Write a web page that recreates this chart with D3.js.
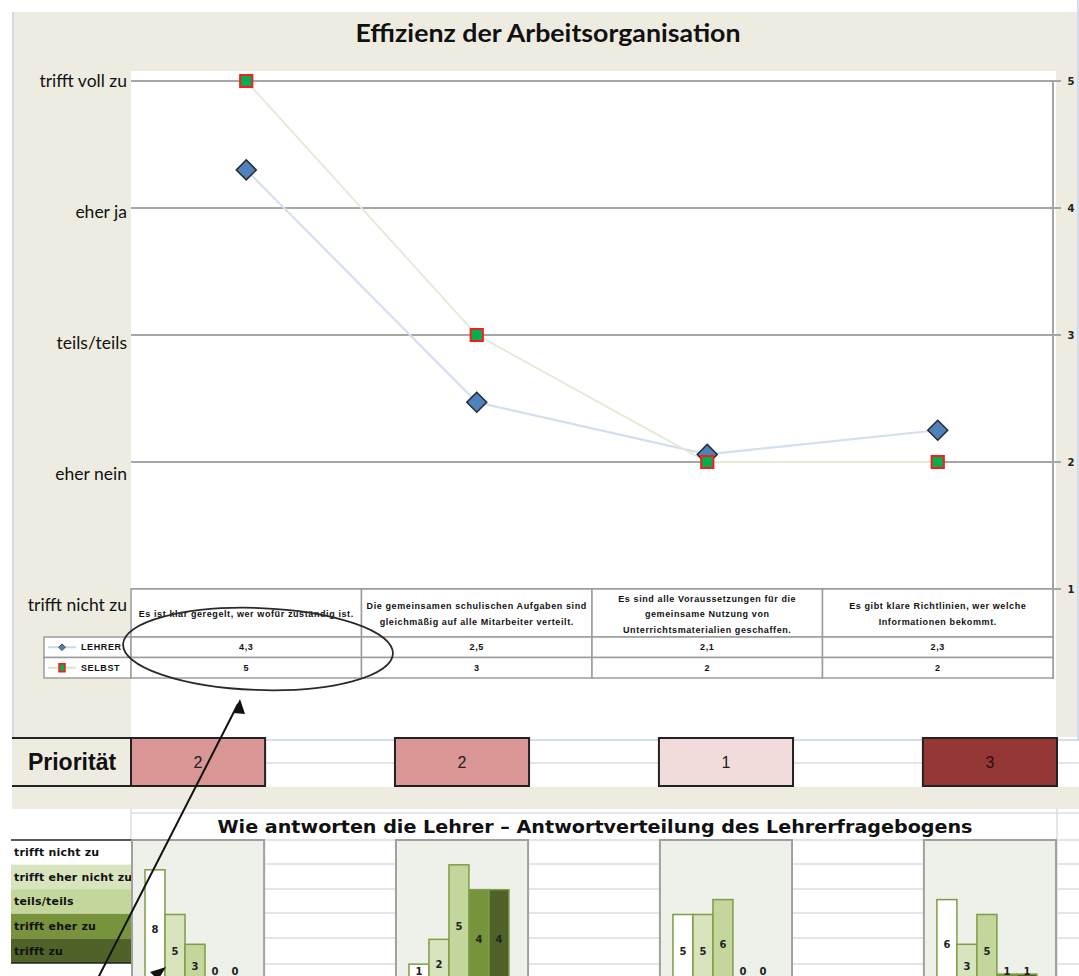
<!DOCTYPE html>
<html lang="de">
<head>
    <meta charset="UTF-8">
    <title>Effizienz der Arbeitsorganisation</title>
    <script src="https://cdn.jsdelivr.net/npm/d3@7"></script>
    <style>
        body {
            margin: 0;
            background: #fff;
        }

        svg {
            display: block;
        }

        .grid {
            stroke: #a6a6a6;
            stroke-width: 2px;
        }

        .cell {
            fill: #fff;
            stroke: #9c9c9c;
            stroke-width: 1.5px;
        }

        .xlgrid {
            stroke: #dcdddf;
            stroke-width: 1.5px;
        }

        .tiny {
            font-family: "Liberation Sans", Arial, sans-serif;
            font-weight: bold;
            font-size: 9px;
            letter-spacing: 0.6px;
            fill: #111;
        }
    </style>
</head>
<body>
<svg width="1079" height="976"></svg>

<script>

    // ---- data ----
    var categories = [
        "Es ist klar geregelt, wer wofür zuständig ist.",
        "Die gemeinsamen schulischen Aufgaben sind\ngleichmäßig auf alle Mitarbeiter verteilt.",
        "Es sind alle Voraussetzungen für die\ngemeinsame Nutzung von\nUnterrichtsmaterialien geschaffen.",
        "Es gibt klare Richtlinien, wer welche\nInformationen bekommt."
    ];
    var lehrer = [4.3, 2.47, 2.06, 2.25];
    var selbst = [5, 3, 2, 2];
    var scaleTicks = [1, 2, 3, 4, 5];
    var scaleLabels = ["trifft nicht zu", "eher nein", "teils/teils", "eher ja", "trifft voll zu"];
    var prioritaet = [2, 2, 1, 3];
    var levels = ["trifft nicht zu", "trifft eher nicht zu", "teils/teils", "trifft eher zu", "trifft zu"];
    var verteilung = [
        [8, 5, 3, 0, 0],
        [1, 2, 5, 4, 4],
        [5, 5, 6, 0, 0],
        [6, 3, 5, 1, 1]
    ];
    var verteilungMax = [10, 6, 10, 10];

    var levelColors = ["#ffffff", "#d7e4bd", "#c3d69b", "#77933c", "#4f6228"];
    var prioColors = {1: "#f2dcdb", 2: "#d99694", 3: "#953735"};

    var de = d3.formatLocale({decimal: ",", thousands: ".", grouping: [3], currency: ["", " €"]});
    var fmt = de.format(".1~f");

    var svg = d3.select('svg');

    // ---- chart area ----
    svg.append('rect')
        .attr('x', 12).attr('y', 12).attr('width', 1066).attr('height', 725)
        .attr('fill', '#eeece1');
    svg.append('rect')
        .attr('x', 131).attr('y', 71).attr('width', 925).attr('height', 666)
        .attr('fill', '#fff');

    var y = d3.scaleLinear().domain([1, 5]).range([589, 81]);
    var yLabel = d3.scaleLinear().domain([1, 5]).range([605, 81]);
    var x = d3.scaleBand().domain(d3.range(categories.length)).range([131, 1053]);
    var cx = function (i) {
        return x(i) + x.bandwidth() / 2;
    };

    svg.append('text')
        .attr('x', 548).attr('y', 42)
        .attr('text-anchor', 'middle')
        .attr('textLength', 385)
        .attr('lengthAdjust', 'spacingAndGlyphs')
        .style('font-family', 'Lato, sans-serif')
        .style('font-weight', 'bold')
        .style('font-size', '25px')
        .style('fill', '#111')
        .text('Effizienz der Arbeitsorganisation');

    svg.selectAll('.grid')
        .data(scaleTicks)
        .enter()
        .append('line')
        .attr('class', 'grid')
        .attr('x1', 131).attr('x2', 1061)
        .attr('y1', function (d) { return y(d); })
        .attr('y2', function (d) { return y(d); });

    svg.append('line')
        .attr('class', 'grid')
        .attr('x1', 1053).attr('x2', 1053)
        .attr('y1', y(5)).attr('y2', 679);

    svg.selectAll('.rtick')
        .data(scaleTicks)
        .enter()
        .append('text')
        .attr('x', 1071)
        .attr('y', function (d) { return y(d); })
        .attr('dy', '0.35em')
        .attr('text-anchor', 'middle')
        .style('font-family', '"DejaVu Sans", sans-serif')
        .style('font-weight', 'bold')
        .style('font-size', '10px')
        .style('fill', '#222')
        .text(function (d) { return d; });

    svg.selectAll('.ylab')
        .data(scaleTicks)
        .enter()
        .append('text')
        .attr('x', 127)
        .attr('y', function (d) { return yLabel(d); })
        .attr('dy', '0.35em')
        .attr('text-anchor', 'end')
        .style('font-family', 'Lato, sans-serif')
        .style('font-size', '17.5px')
        .style('fill', '#111')
        .text(function (d, i) { return scaleLabels[i]; });

    // ---- series ----
    var line = d3.line()
        .x(function (d, i) { return cx(i); })
        .y(function (d) { return y(d); });

    svg.append('path').datum(lehrer)
        .attr('d', line)
        .attr('fill', 'none')
        .attr('stroke', '#d3dff0')
        .attr('stroke-width', 2.2);
    svg.append('path').datum(selbst)
        .attr('d', line)
        .attr('fill', 'none')
        .attr('stroke', '#e6e8d3')
        .attr('stroke-width', 1.8);

    var diamond = d3.symbol().type(d3.symbolSquare).size(200);
    var square = d3.symbol().type(d3.symbolSquare).size(150);

    svg.selectAll('.lehrer')
        .data(lehrer)
        .enter()
        .append('path')
        .attr('d', diamond)
        .attr('transform', function (d, i) {
            return 'translate(' + cx(i) + ',' + y(d) + ') rotate(45)';
        })
        .attr('fill', '#4f81bd')
        .attr('stroke', '#2b2b2b')
        .attr('stroke-width', 1.5);

    svg.selectAll('.selbst')
        .data(selbst)
        .enter()
        .append('path')
        .attr('d', square)
        .attr('transform', function (d, i) {
            return 'translate(' + cx(i) + ',' + y(d) + ')';
        })
        .attr('fill', '#00b050')
        .attr('stroke', '#ff1a1a')
        .attr('stroke-width', 2);

    // ---- data table ----
    var headTop = 589, headBottom = 637, rowH = 20.5;

    svg.selectAll('.head')
        .data(categories)
        .enter()
        .append('rect')
        .attr('class', 'cell')
        .attr('x', function (d, i) { return x(i); })
        .attr('y', headTop)
        .attr('width', x.bandwidth())
        .attr('height', headBottom - headTop);

    svg.selectAll('.headText')
        .data(categories)
        .enter()
        .append('text')
        .attr('class', 'tiny')
        .attr('text-anchor', 'middle')
        .each(function (d, i) {
            var lines = d.split('\n');
            var t = d3.select(this);
            var mid = (headTop + headBottom) / 2 + 1;
            lines.forEach(function (l, k) {
                t.append('tspan')
                    .attr('x', cx(i))
                    .attr('y', mid + (k - (lines.length - 1) / 2) * 15.5)
                    .attr('dy', '0.35em')
                    .text(l);
            });
        });

    var series = [
        {name: 'LEHRER', values: lehrer},
        {name: 'SELBST', values: selbst}
    ];

    series.forEach(function (s, r) {
        var top = headBottom + r * rowH;
        svg.append('rect')
            .attr('class', 'cell')
            .attr('x', 44).attr('y', top)
            .attr('width', 131 - 44).attr('height', rowH);
        s.values.forEach(function (v, i) {
            svg.append('rect')
                .attr('class', 'cell')
                .attr('x', x(i)).attr('y', top)
                .attr('width', x.bandwidth()).attr('height', rowH);
            svg.append('text')
                .attr('class', 'tiny')
                .attr('x', cx(i)).attr('y', top + rowH / 2)
                .attr('dy', '0.35em')
                .attr('text-anchor', 'middle')
                .text(fmt(v));
        });
        svg.append('line')
            .attr('x1', 48).attr('x2', 76)
            .attr('y1', top + rowH / 2).attr('y2', top + rowH / 2)
            .attr('stroke', r === 0 ? '#cad8ec' : '#dfe3c8')
            .attr('stroke-width', 2);
        if (r === 0) {
            svg.append('path')
                .attr('d', d3.symbol().type(d3.symbolSquare).size(22))
                .attr('transform', 'translate(62,' + (top + rowH / 2) + ') rotate(45)')
                .attr('fill', '#4f81bd').attr('stroke', '#333').attr('stroke-width', 0.8);
        } else {
            svg.append('rect')
                .attr('x', 59).attr('y', top + rowH / 2 - 4)
                .attr('width', 6).attr('height', 8)
                .attr('fill', '#00b050').attr('stroke', '#ff1a1a').attr('stroke-width', 1.5);
        }
        svg.append('text')
            .attr('class', 'tiny')
            .attr('x', 81).attr('y', top + rowH / 2)
            .attr('dy', '0.35em')
            .text(s.name);
    });

    // light blue frame lines
    svg.append('path')
        .attr('d', 'M13,12V740H1079M1078,0V740')
        .attr('fill', 'none')
        .attr('stroke', '#c5d5ec')
        .attr('stroke-width', 1.5);

    // ---- lower section (Excel cells) ----
    var xb = d3.scaleBand().domain(d3.range(categories.length)).range([131, 1057]).paddingInner(0.492);

    [763, 813, 840, 864, 889, 913, 938, 964].forEach(function (gy) {
        svg.append('line').attr('class', 'xlgrid')
            .attr('x1', 131).attr('x2', 1079).attr('y1', gy).attr('y2', gy);
    });
    svg.append('line').attr('class', 'xlgrid')
        .attr('x1', 131).attr('x2', 131).attr('y1', 808).attr('y2', 840);
    svg.append('line').attr('class', 'xlgrid')
        .attr('x1', 1057).attr('x2', 1057).attr('y1', 808).attr('y2', 976);

    svg.append('rect')
        .attr('x', 12).attr('y', 738).attr('width', 119).attr('height', 48)
        .attr('fill', '#eeece1');
    svg.append('rect')
        .attr('x', 12).attr('y', 787).attr('width', 1067).attr('height', 22)
        .attr('fill', '#eeece1');

    svg.append('text')
        .attr('x', 72).attr('y', 762)
        .attr('dy', '0.35em')
        .attr('text-anchor', 'middle')
        .style('font-family', '"Liberation Sans", Arial, sans-serif')
        .style('font-weight', 'bold')
        .style('font-size', '23px')
        .style('fill', '#111')
        .text('Priorität');

    svg.append('path')
        .attr('d', 'M12,738H131M12,786H131')
        .attr('stroke', '#222').attr('stroke-width', 2);

    svg.selectAll('.prio')
        .data(prioritaet)
        .enter()
        .append('rect')
        .attr('x', function (d, i) { return xb(i); })
        .attr('y', 738)
        .attr('width', xb.bandwidth())
        .attr('height', 48)
        .attr('fill', function (d) { return prioColors[d]; })
        .attr('stroke', '#222')
        .attr('stroke-width', 2);

    svg.selectAll('.prioText')
        .data(prioritaet)
        .enter()
        .append('text')
        .attr('x', function (d, i) { return xb(i) + xb.bandwidth() / 2; })
        .attr('y', 762)
        .attr('dy', '0.35em')
        .attr('text-anchor', 'middle')
        .style('font-family', '"Liberation Sans", Arial, sans-serif')
        .style('font-size', '16px')
        .style('fill', function (d) { return d === 3 ? '#2a1212' : '#222'; })
        .text(function (d) { return d; });

    svg.append('text')
        .attr('x', 595).attr('y', 833)
        .attr('text-anchor', 'middle')
        .attr('textLength', 755)
        .attr('lengthAdjust', 'spacingAndGlyphs')
        .style('font-family', '"DejaVu Sans", sans-serif')
        .style('font-weight', 'bold')
        .style('font-size', '18px')
        .style('fill', '#111')
        .text('Wie antworten die Lehrer – Antwortverteilung des Lehrerfragebogens');

    // legend of answer levels
    svg.append('clipPath').attr('id', 'legClip')
        .append('rect').attr('x', 11).attr('y', 830).attr('width', 120).attr('height', 140);

    var legRow = 24.6;
    var leg = svg.append('g').attr('clip-path', 'url(#legClip)');
    levels.forEach(function (l, i) {
        leg.append('rect')
            .attr('x', 11).attr('y', 840 + i * legRow)
            .attr('width', 120).attr('height', legRow)
            .attr('fill', levelColors[i]);
        leg.append('text')
            .attr('x', 14).attr('y', 840 + i * legRow + legRow / 2)
            .attr('dy', '0.35em')
            .style('font-family', '"DejaVu Sans", sans-serif')
            .style('font-weight', 'bold')
            .style('font-size', '11px')
            .style('letter-spacing', '0.2px')
            .style('fill', '#111')
            .text(l);
    });
    svg.append('path')
        .attr('d', 'M11,840H131M11,' + (840 + 5 * legRow) + 'H131')
        .attr('stroke', '#222').attr('stroke-width', 1.5);

    // small distribution charts
    verteilung.forEach(function (counts, p) {
        var x0 = xb(p);
        var g = svg.append('g');
        g.append('rect')
            .attr('x', x0 + 1).attr('y', 840)
            .attr('width', xb.bandwidth() - 2).attr('height', 150)
            .attr('fill', '#eef1e9')
            .attr('stroke', '#a0a0a0')
            .attr('stroke-width', 2);

        var bx = d3.scaleBand().domain(d3.range(levels.length)).range([x0 + 14, x0 + 114]);
        var by = d3.scaleLinear().domain([0, verteilungMax[p]]).range([989, 840]);

        g.selectAll('.bar')
            .data(counts)
            .enter()
            .append('rect')
            .attr('x', function (d, i) { return bx(i); })
            .attr('y', function (d) { return by(d); })
            .attr('width', bx.bandwidth())
            .attr('height', function (d) { return by(0) - by(d); })
            .attr('fill', function (d, i) { return levelColors[i]; })
            .attr('stroke', '#7f9d46')
            .attr('stroke-width', function (d) { return d > 0 ? 1.5 : 0; });

        g.selectAll('.lab')
            .data(counts)
            .enter()
            .append('text')
            .attr('x', function (d, i) { return bx(i) + bx.bandwidth() / 2; })
            .attr('y', function (d) { return Math.min((by(d) + by(0)) / 2, 971); })
            .attr('dy', '0.35em')
            .attr('text-anchor', 'middle')
            .style('font-family', '"DejaVu Sans", sans-serif')
            .style('font-weight', 'bold')
            .style('font-size', '10px')
            .style('fill', '#222')
            .text(function (d) { return d; });
    });

    // ---- annotation: ellipse and arrows ----
    svg.append('ellipse')
        .attr('cx', 258).attr('cy', 649)
        .attr('rx', 135).attr('ry', 41)
        .attr('transform', 'rotate(2,258,649)')
        .attr('fill', 'none')
        .attr('stroke', '#2a2a2a')
        .attr('stroke-width', 1.8);

    svg.append('line')
        .attr('x1', 238).attr('y1', 704)
        .attr('x2', 97).attr('y2', 980)
        .attr('stroke', '#111').attr('stroke-width', 2);
    svg.append('path')
        .attr('d', 'M240,699L233,713L245,714Z')
        .attr('fill', '#111');
    svg.append('path')
        .attr('d', 'M166,967L150,972L158,980Z')
        .attr('fill', '#111');

</script>

</body>
</html>
